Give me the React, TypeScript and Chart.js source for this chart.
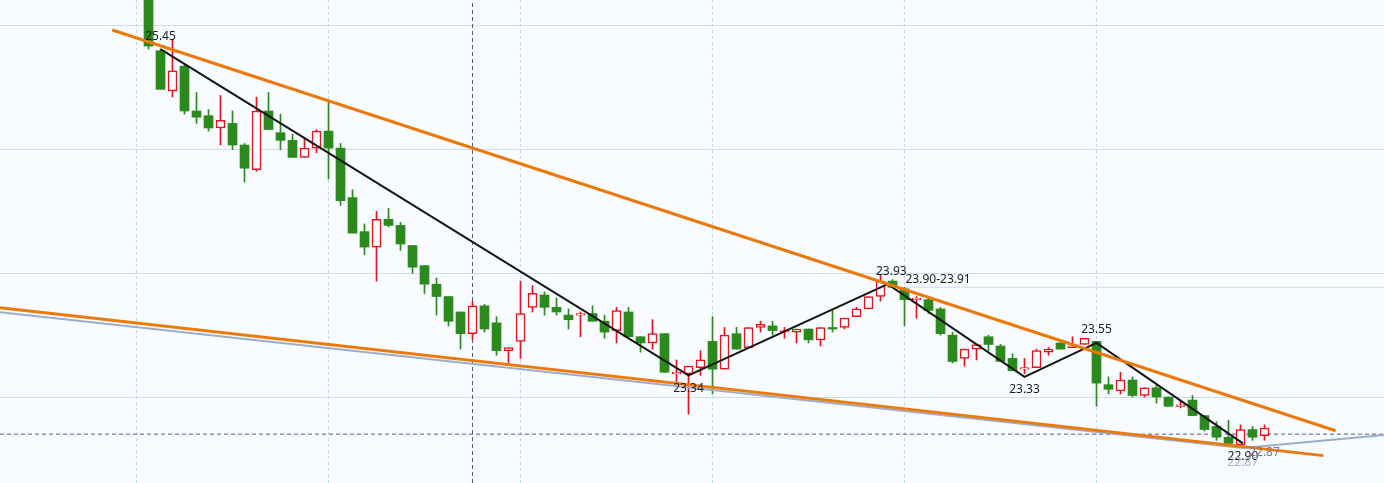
import React, { useEffect, useRef } from "react";
import { Chart, registerables } from "chart.js";

Chart.register(...registerables);

// ---- candle data (index = trading day position) ----
const opens = [
  25.98, 25.44, 25.18, 25.34, 25.05, 25.02, 24.94, 24.97, 24.83, 24.67,
  25.05, 24.91, 24.86, 24.75, 24.81, 24.92, 24.81, 24.49, 24.27, 24.17,
  24.35, 24.31, 24.18, 24.05, 23.93, 23.85, 23.75, 23.61, 23.79, 23.68,
  23.50, 23.56, 23.78, 23.86, 23.78, 23.73, 23.73, 23.74, 23.69, 23.63,
  23.75, 23.59, 23.55, 23.61, 23.35, 23.35, 23.39, 23.56, 23.38, 23.61,
  23.52, 23.65, 23.66, 23.62, 23.62, 23.64, 23.57, 23.65, 23.65, 23.72,
  23.77, 23.85, 23.95, 23.90, 23.83, 23.83, 23.77, 23.60, 23.45, 23.51,
  23.59, 23.53, 23.45, 23.38, 23.39, 23.49, 23.55, 23.52, 23.54, 23.56,
  23.28, 23.24, 23.31, 23.21, 23.26, 23.20, 23.14, 23.18, 23.08, 23.01,
  22.94, 22.89, 22.99, 22.95,
];
const highs = [
  26.05, 25.45, 25.51, 25.35, 25.17, 25.06, 25.15, 25.05, 24.84, 25.14,
  25.17, 25.03, 24.90, 24.88, 24.93, 25.11, 24.84, 24.54, 24.32, 24.40,
  24.42, 24.33, 24.18, 24.05, 23.97, 23.85, 23.75, 23.82, 23.80, 23.72,
  23.52, 23.95, 23.92, 23.88, 23.84, 23.77, 23.75, 23.79, 23.73, 23.78,
  23.78, 23.59, 23.70, 23.61, 23.44, 23.40, 23.50, 23.72, 23.65, 23.65,
  23.65, 23.69, 23.69, 23.65, 23.64, 23.64, 23.65, 23.77, 23.71, 23.78,
  23.85, 23.99, 23.96, 23.91, 23.85, 23.84, 23.78, 23.62, 23.51, 23.54,
  23.60, 23.54, 23.48, 23.45, 23.51, 23.52, 23.55, 23.59, 23.58, 23.56,
  23.33, 23.36, 23.33, 23.26, 23.28, 23.20, 23.18, 23.21, 23.08, 23.04,
  23.05, 23.02, 23.01, 23.02,
];
const lows = [
  25.45, 25.19, 25.14, 25.03, 24.97, 24.92, 24.83, 24.80, 24.59, 24.66,
  24.93, 24.80, 24.75, 24.75, 24.78, 24.61, 24.44, 24.26, 24.12, 23.95,
  24.30, 24.15, 24.00, 23.87, 23.73, 23.66, 23.51, 23.57, 23.62, 23.47,
  23.42, 23.45, 23.75, 23.73, 23.73, 23.64, 23.59, 23.69, 23.58, 23.55,
  23.59, 23.49, 23.51, 23.36, 23.29, 23.09, 23.34, 23.22, 23.38, 23.51,
  23.52, 23.62, 23.60, 23.58, 23.55, 23.55, 23.53, 23.62, 23.64, 23.72,
  23.77, 23.82, 23.91, 23.66, 23.71, 23.74, 23.60, 23.42, 23.40, 23.44,
  23.50, 23.43, 23.37, 23.35, 23.39, 23.47, 23.51, 23.52, 23.54, 23.14,
  23.22, 23.22, 23.20, 23.20, 23.16, 23.14, 23.13, 23.08, 22.98, 22.92,
  22.89, 22.88, 22.92, 22.92,
];
const closes = [
  25.47, 25.19, 25.31, 25.05, 25.01, 24.94, 24.99, 24.83, 24.68, 25.05,
  24.93, 24.86, 24.75, 24.81, 24.92, 24.81, 24.47, 24.26, 24.17, 24.35,
  24.31, 24.19, 24.04, 23.93, 23.85, 23.69, 23.61, 23.79, 23.64, 23.50,
  23.52, 23.74, 23.87, 23.78, 23.75, 23.70, 23.74, 23.69, 23.62, 23.76,
  23.59, 23.55, 23.61, 23.36, 23.36, 23.40, 23.44, 23.38, 23.60, 23.51,
  23.65, 23.67, 23.63, 23.63, 23.64, 23.57, 23.65, 23.64, 23.71, 23.77,
  23.85, 23.95, 23.91, 23.83, 23.84, 23.76, 23.61, 23.43, 23.51, 23.54,
  23.54, 23.43, 23.37, 23.39, 23.50, 23.51, 23.51, 23.53, 23.58, 23.29,
  23.25, 23.31, 23.21, 23.26, 23.20, 23.14, 23.15, 23.08, 22.99, 22.94,
  22.90, 22.99, 22.94, 23.00,
];

// ---- zigzag (swing points) ----
const zigIdx = [1, 45, 61.6, 73, 79, 91.2];
const zigVal = [25.45, 23.34, 23.93, 23.33, 23.55, 22.9];

// ---- channel / trend lines ----
const upperIdx = [-3.02, 98.93];
const upperVal = [25.574, 22.982];
const lowerIdx = [-12.375, 97.9];
const lowerVal = [23.778, 22.821];
const greyIdx = [-12.375, 91.2, 102.96];
const greyVal = [23.748, 22.87, 22.955];

// ---- reference lines ----
const crossIdx = 27;
const crossVal = 22.96;
const priceLineIdx = [63, 103];
const priceLineVal = 23.91;

// ---- labels ----
const labelTexts = ["25.45", "23.34", "23.93", "23.90-23.91", "23.33", "23.55", "22.90", "22.87", "22.87"];
const labelIdx = [1, 45, 61.9, 63, 73, 79, 91.2, 91.2, 93];
const labelVals = [25.45, 23.34, 23.93, 23.91, 23.33, 23.55, 22.9, 22.87, 22.87];
const labelKinds = ["above", "below", "above", "range", "below", "above", "below", "ghost", "side"];

// ---- axis layout ----
const xGridIdx = [-1, 15, 31, 47, 63, 79];
const yGridVals = [23.2, 24.0, 24.8, 25.6];
const X_MIN = -12.375;
const X_MAX = 102.958;
const Y_MIN = 22.644;
const Y_MAX = 25.768;

// ---- styles ----
const BG = "#f8fbff";
const RED = "#e6121c";
const GREEN = "#2c891e";
const ORANGE = "#ec7a0a";
const GREYBLUE = "#9cadcc";
const DASH = "#4b5e80";
const HGRID = "#cfdcec";
const VGRID = "#bfd7ef";

const LABEL_STYLE: Record<string, { dx: number; dy: number; align: CanvasTextAlign; color: string }> = {
  above: { dx: 0, dy: -13, align: "center", color: "#1c1c1c" },
  below: { dx: 0, dy: 13, align: "center", color: "#1c1c1c" },
  range: { dx: 1, dy: -8, align: "left", color: "#1c1c1c" },
  ghost: { dx: 0, dy: 15, align: "center", color: "#a3b3cf" },
  side: { dx: 0, dy: 5, align: "center", color: "#6a7ea4" },
};

const labelPlugin = {
  id: "swingLabels",
  afterDatasetsDraw(chart: any) {
    const { ctx, scales } = chart;
    const xs = scales.x;
    const ys = scales.y;
    ctx.save();
    ctx.font = '12px "Noto Sans", sans-serif';
    ctx.textBaseline = "middle";
    labelTexts.forEach((t, k) => {
      const st = LABEL_STYLE[labelKinds[k]];
      ctx.fillStyle = st.color;
      ctx.textAlign = st.align;
      ctx.fillText(t, xs.getPixelForValue(labelIdx[k]) + st.dx, ys.getPixelForValue(labelVals[k]) + st.dy);
    });
    ctx.restore();
  },
};

function lineSet(idx: number[], vals: number[], color: string, width: number, order: number, dash: number[] = []) {
  return {
    type: "line" as const,
    data: idx.map((x, k) => ({ x, y: vals[k] })),
    borderColor: color,
    borderWidth: width,
    borderDash: dash,
    pointRadius: 0,
    tension: 0,
    fill: false,
    order,
  };
}

export default function App() {
  const ref = useRef<HTMLCanvasElement>(null);

  useEffect(() => {
    const canvas = ref.current;
    if (!canvas) return;
    const up = closes.map((c, i) => c >= opens[i]);
    const colors = up.map((u) => (u ? RED : GREEN));

    const chart = new Chart(canvas, {
      type: "bar",
      data: {
        datasets: [
          lineSet(upperIdx, upperVal, ORANGE, 3, 0),
          lineSet(lowerIdx, lowerVal, ORANGE, 3, 0),
          lineSet(zigIdx, zigVal, "#141414", 2, 1),
          lineSet(greyIdx, greyVal, GREYBLUE, 2, 1),
          {
            type: "bar" as const,
            data: opens.map((o, i) => ({ x: i, y: [o, closes[i]] })) as any,
            backgroundColor: up.map((u) => (u ? BG : GREEN)),
            borderColor: colors,
            borderWidth: up.map((u) => (u ? 1.5 : 0)),
            borderSkipped: false,
            barThickness: 9,
            grouped: false,
            minBarLength: 1.5,
            order: 2,
          },
          {
            type: "bar" as const,
            data: lows.map((l, i) => ({ x: i, y: [l, highs[i]] })) as any,
            backgroundColor: colors,
            borderWidth: 0,
            barThickness: 1,
            grouped: false,
            order: 3,
          },
          lineSet([X_MIN, X_MAX], [crossVal, crossVal], DASH, 1, 5, [4, 3]),
          lineSet([crossIdx, crossIdx], [Y_MIN, Y_MAX], DASH, 1, 5, [4, 3]),
          lineSet(priceLineIdx, [priceLineVal, priceLineVal], HGRID, 1, 6),
        ] as any,
      },
      options: {
        responsive: false,
        animation: false,
        events: [],
        layout: { padding: 0, autoPadding: false },
        plugins: { legend: { display: false }, tooltip: { enabled: false } },
        scales: {
          x: {
            type: "linear",
            min: X_MIN,
            max: X_MAX,
            offset: false,
            bounds: "data",
            ticks: { display: false },
            grid: { color: VGRID, drawTicks: false, offset: false, lineWidth: 1 },
            border: { display: false, dash: [3, 3] },
            afterBuildTicks: (s: any) => {
              s.ticks = xGridIdx.map((v) => ({ value: v }));
            },
          },
          y: {
            type: "linear",
            min: Y_MIN,
            max: Y_MAX,
            beginAtZero: false,
            bounds: "data",
            ticks: { display: false },
            grid: { color: HGRID, drawTicks: false, lineWidth: 1 },
            border: { display: false },
            afterBuildTicks: (s: any) => {
              s.ticks = yGridVals.map((v) => ({ value: v }));
            },
          },
        },
      } as any,
      plugins: [labelPlugin],
    });
    return () => chart.destroy();
  }, []);

  return (
    <div style={{ position: "fixed", left: 0, top: 0, width: 1384, height: 483, background: BG }}>
      <canvas ref={ref} width={1384} height={483} style={{ display: "block" }} />
    </div>
  );
}
